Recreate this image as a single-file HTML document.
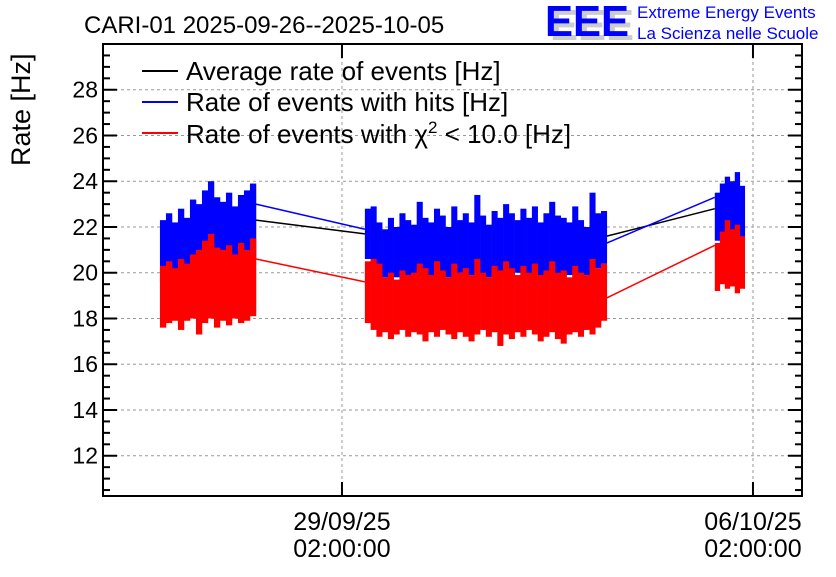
<!DOCTYPE html>
<html><head><meta charset="utf-8"><style>
body{margin:0;background:#fff;width:836px;height:572px;overflow:hidden}
svg text{font-family:"Liberation Sans",sans-serif}
</style></head><body>
<svg id="chart" width="836" height="572" xmlns="http://www.w3.org/2000/svg">
<rect width="836" height="572" fill="#fff"/>
<text x="84" y="33" font-size="24">CARI-01 2025-09-26--2025-10-05</text>
<g>
<text x="550" y="40" font-size="44" font-weight="bold" fill="#ccc" textLength="84" lengthAdjust="spacingAndGlyphs">EEE</text>
<text x="545" y="36" font-size="44" font-weight="bold" fill="#0000ff" textLength="84" lengthAdjust="spacingAndGlyphs">EEE</text>
<text x="637" y="18" font-size="17" fill="#0000ff">Extreme Energy Events</text>
<text x="637" y="39" font-size="17" fill="#0000ff">La Scienza nelle Scuole</text>
</g>
<text transform="translate(30,166) rotate(-90)" font-size="27">Rate [Hz]</text>
<g id="grid"></g><g id="marks"></g><g id="axes"></g>
<g font-size="26">
<line x1="142" y1="71" x2="178" y2="71" stroke="#000" stroke-width="2"/><text x="186" y="80">Average rate of events [Hz]</text>
<line x1="142" y1="102" x2="178" y2="102" stroke="#00f" stroke-width="2"/><text x="186" y="111">Rate of events with hits [Hz]</text>
<line x1="142" y1="133" x2="178" y2="133" stroke="#f00" stroke-width="2"/><text x="186" y="143">Rate of events with χ<tspan dy="-10" font-size="17">2</tspan><tspan dy="10"> &lt; 10.0 [Hz]</tspan></text>
</g>
</svg>
<script>
// time in days relative to 29/09/25 02:00:00
const segTimes=[[-3.10,-1.465],[0.39,4.51],[6.35,6.86]];
const blueHi=[[22.3,22.6,22.2,22.8,22.4,23.2,23.0,23.6,24.0,23.3,23.1,23.5,22.9,23.4,23.6,23.9],
[22.8,22.9,22.2,21.9,22.4,22.0,22.6,22.3,22.1,23.1,22.4,22.2,22.8,22.5,22.0,22.9,22.3,22.6,22.2,23.4,22.5,22.1,22.7,22.4,23.0,22.6,22.3,22.8,22.4,22.9,22.2,22.6,23.1,22.5,22.4,22.2,22.9,22.3,22.0,23.5,22.6,22.7],
[23.5,23.9,24.2,24.0,24.4,23.8]];
const blueLo=[[19.6,20.0,20.1,20.2,20.0,20.4,20.5,20.6,20.4,20.5,20.3,20.6,20.4,20.5,20.2,20.6],
[20.6,20.2,20.0,19.8,19.9,19.8,20.0,19.8,19.9,20.0,20.1,19.8,19.9,20.0,19.8,19.9,20.0,19.8,19.9,20.0,19.9,19.8,20.1,20.0,19.9,19.8,20.0,19.9,19.8,20.0,19.8,19.9,20.0,19.9,19.8,19.9,20.0,19.8,19.9,20.0,20.2,20.4],
[21.4,21.6,21.5,21.7,21.6,21.5]];
const redHi=[[20.3,20.5,20.2,20.6,20.4,20.8,21.0,21.4,21.7,21.1,21.0,21.2,20.8,21.3,21.0,21.5],
[20.5,20.6,20.4,19.8,20.0,19.7,20.1,19.9,20.0,20.4,20.2,19.9,20.5,20.1,19.8,20.4,20.0,20.2,19.9,20.6,20.0,19.8,20.3,20.1,20.5,20.2,19.9,20.3,20.0,20.4,19.9,20.1,20.5,20.0,20.1,19.8,20.3,20.0,19.9,20.6,20.2,20.4],
[21.3,21.8,22.3,21.9,22.1,21.6]];
const redLo=[[17.6,17.8,17.9,17.5,17.9,18.0,17.3,17.8,18.0,17.6,17.9,17.7,18.0,17.8,17.9,18.1],
[17.8,17.5,17.2,17.4,17.1,17.3,17.5,17.2,17.4,17.3,17.0,17.4,17.2,17.5,17.3,17.1,17.4,17.2,17.0,17.3,17.5,17.2,17.4,16.8,17.3,17.1,17.4,17.2,17.5,17.3,17.0,17.2,17.4,17.1,16.9,17.3,17.4,17.2,17.5,17.3,17.6,17.9],
[19.2,19.5,19.3,19.4,19.1,19.3]];
// connecting values at segment ends/starts
const avgLink=[[22.3,21.7],[21.6,22.8]];
const blueLink=[[23.0,21.9],[21.3,23.3]];
const redLink=[[20.6,19.6],[18.9,21.2]];
const yTicks=[12,14,16,18,20,22,24,26,28];
const xTicks=[0,7];
const xTickLabels=[["29/09/25","02:00:00"],["06/10/25","02:00:00"]];

const L=103,R=802,T=44,B=496;
const yMin=10.24,yMax=30.0,xMin=-4.07,xMax=7.835;
const ys=v=>B-(v-yMin)/(yMax-yMin)*(B-T);
const xs=d=>L+(d-xMin)/(xMax-xMin)*(R-L);
const NS='http://www.w3.org/2000/svg';
function mk(parent,tag,at){const e=document.createElementNS(NS,tag);for(const k in at)e.setAttribute(k,at[k]);parent.appendChild(e);return e;}
const grid=document.getElementById('grid'),marks=document.getElementById('marks'),axes=document.getElementById('axes');
yTicks.forEach(v=>{const g=mk(grid,'line',{x1:L,x2:R,y1:ys(v),y2:ys(v),stroke:'#999','stroke-dasharray':'3,3'});

});
xTicks.forEach(d=>{const g=mk(grid,'line',{x1:xs(d),x2:xs(d),y1:T,y2:B,stroke:'#999','stroke-dasharray':'3,3'});

});
function bars(hi,lo,color,name){
 segTimes.forEach((st,s)=>{const n=hi[s].length;const w=(xs(st[1])-xs(st[0]))/n;
  for(let i=0;i<n;i++){const t=st[0]+(st[1]-st[0])*i/n;
   const r=mk(marks,'rect',{x:xs(t),y:ys(hi[s][i]),width:w+0.3,height:ys(lo[s][i])-ys(hi[s][i]),fill:color});
   
   }});
}
function links(vals,color,name){
 for(let s=0;s<2;s++){const l=mk(marks,'line',{x1:xs(segTimes[s][1]),y1:ys(vals[s][0]),x2:xs(segTimes[s+1][0]),y2:ys(vals[s][1]),stroke:color,'stroke-width':1.5});
  
  }
}
links(avgLink,'#000','average-rate-line');
bars(blueHi,blueLo,'#0000ff','hits-rate-bar');
links(blueLink,'#0000ff','hits-rate-line');
bars(redHi,redLo,'#ff0000','chi2-rate-bar');
links(redLink,'#ff0000','chi2-rate-line');
const fr=mk(axes,'rect',{x:L,y:T,width:R-L,height:B-T,fill:'none',stroke:'#000','stroke-width':2});


for(let v=10.5;v<=30;v+=0.5){const major=Math.abs(v-Math.round(v))<1e-6&&Math.round(v)%2===0;const len=major?14:7;
 mk(axes,'line',{x1:L,x2:L+len,y1:ys(v),y2:ys(v),stroke:'#000','stroke-width':2});
 mk(axes,'line',{x1:R,x2:R-len,y1:ys(v),y2:ys(v),stroke:'#000','stroke-width':2});}
yTicks.forEach(v=>{const t=mk(axes,'text',{x:L-5,y:ys(v)+8,'text-anchor':'end','font-size':'23'});t.textContent=v;

});
xTicks.forEach((d,i)=>{mk(axes,'line',{x1:xs(d),x2:xs(d),y1:B,y2:B-14,stroke:'#000','stroke-width':2});
 mk(axes,'line',{x1:xs(d),x2:xs(d),y1:T,y2:T+14,stroke:'#000','stroke-width':2});
 xTickLabels[i].forEach((s,j)=>{const t=mk(axes,'text',{x:xs(d),y:530+j*27,'text-anchor':'middle','font-size':'25'});t.textContent=s;
 
 });});
</script>
</body></html>
